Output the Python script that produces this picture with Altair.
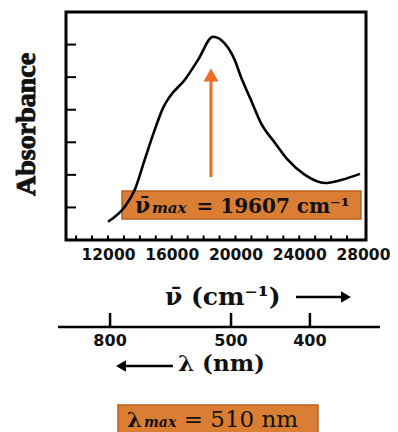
import altair as alt
import pandas as pd

# ---- spectrum ----
wavenumber = [12000, 13050, 13680, 14300, 14930, 15450, 15870, 16810, 17650, 18590,
              19320, 19950, 20340, 20970, 21600, 22480, 23290, 24360, 25620, 26620, 27810]
absorbance = [0.56, 1.02, 1.54, 2.46, 3.38, 4.05, 4.40, 4.91, 5.53, 6.24,
              6.04, 5.53, 5.01, 4.30, 3.59, 2.98, 2.46, 2.00, 1.75, 1.84, 2.03]

x_tick_labels = [12000, 16000, 20000, 24000, 28000]
x_minor_ticks = [10000, 11000, 12000, 13000, 14000, 15000, 16000, 17000, 18000,
                 19000, 20000, 21000, 22000, 23000, 24000, 25000, 26000, 27000]
y_ticks = [1, 2, 3, 4, 5, 6]
x_domain = [9365, 28190]
y_domain = [0, 7]

# wavelength scale (nm) and where its ticks sit on the wavenumber axis
lam_labels = ["800", "500", "400"]
lam_pos = [12130, 19720, 24670]

nu_max_text = "= 19607 cm\u207b\u00b9"
lam_max_text = "= 510 nm"
y_title = "Absorbance"

xs = alt.Scale(domain=x_domain, nice=False, zero=False)
ys = alt.Scale(domain=y_domain, nice=False, zero=False)

ORANGE_BOX = "#da7e34"
ORANGE_EDGE = "#b9621f"
ORANGE_ARROW = "#ee6a25"
INK = "#111111"

XAXIS = alt.Axis(
    values=x_tick_labels, format="d", title=None, domain=False, ticks=True, tickSize=0,
    labelFontSize=15.5, labelFont="DejaVu Sans", labelFontWeight="bold", labelColor=INK,
    labelPadding=7, labelOverlap=False, labelFlush=False, grid=False)
YAXIS = alt.Axis(title=None, labels=False, ticks=False, domain=False, grid=False)


def X(f="x"):
    return alt.X(f"{f}:Q", scale=xs, axis=XAXIS, title=None)


def Y(f="y"):
    return alt.Y(f"{f}:Q", scale=ys, axis=YAXIS, title=None)


spec = pd.DataFrame({"x": wavenumber, "y": absorbance})

nu_box = alt.Chart(pd.DataFrame({"x": [12878], "x2": [27873], "y": [0.645], "y2": [1.504]})).mark_rect(
    fill=ORANGE_BOX, stroke=ORANGE_EDGE, strokeWidth=1.5
).encode(x=X(), x2="x2:Q", y=Y(), y2="y2:Q")

lam_box = alt.Chart(pd.DataFrame({"x": [12627], "x2": [25175], "y": [-5.066], "y2": [-6.14]})).mark_rect(
    fill=ORANGE_BOX, stroke=ORANGE_EDGE, strokeWidth=1.5
).encode(x=X(), x2="x2:Q", y=Y(), y2="y2:Q")

curve = alt.Chart(spec).mark_line(color="black", strokeWidth=2.6, interpolate="monotone").encode(
    x=X(), y=Y())

title_mark = alt.Chart(pd.DataFrame({"x": [6918], "y": [3.55], "t": [y_title]})).mark_text(
    font="Liberation Serif", fontSize=28, fontWeight="bold", angle=270, align="center",
    baseline="middle", color=INK, stroke=INK, strokeWidth=0.9
).encode(x=X(), y=Y(), text="t:N")

xminor = alt.Chart(pd.DataFrame({"x": x_minor_ticks, "y": 0.0, "y2": 0.14})).mark_rule(
    color="black", strokeWidth=2
).encode(x=X(), y=Y(), y2="y2:Q")

yminor = alt.Chart(pd.DataFrame({"x": x_domain[0], "x2": 9992, "y": y_ticks})).mark_rule(
    color="black", strokeWidth=2
).encode(x=X(), x2="x2:Q", y=Y())

arrow_shaft = alt.Chart(pd.DataFrame({"x": [18462], "y": [1.934], "y2": [4.974]})).mark_rule(
    color=ORANGE_ARROW, strokeWidth=3
).encode(x=X(), y=Y(), y2="y2:Q")
arrow_head = alt.Chart(pd.DataFrame({"x": [18462], "y": [5.066]})).mark_point(
    shape="triangle-up", size=225, filled=True, color=ORANGE_ARROW, opacity=1
).encode(x=X(), y=Y())

nu_sym = alt.Chart(pd.DataFrame({"x": [13694], "y": [0.829], "t": ["\u03bd\u0304"]})).mark_text(
    font="DejaVu Serif", fontSize=22, fontWeight="bold", align="left", baseline="alphabetic", color=INK
).encode(x=X(), y=Y(), text="t:N")
nu_sub = alt.Chart(pd.DataFrame({"x": [14761], "y": [0.829], "t": ["max"]})).mark_text(
    font="DejaVu Serif", fontSize=15, fontWeight="bold", fontStyle="italic", align="left",
    baseline="alphabetic", color=INK
).encode(x=X(), y=Y(), text="t:N")
nu_val = alt.Chart(pd.DataFrame({"x": [22352], "y": [0.829], "t": [nu_max_text]})).mark_text(
    font="DejaVu Serif", fontSize=20, fontWeight="bold", align="center", baseline="alphabetic", color=INK
).encode(x=X(), y=Y(), text="t:N")

nu_label = alt.Chart(pd.DataFrame({"x": [15576], "y": [-1.996], "t": ["\u03bd\u0304 (cm\u207b\u00b9)"]})).mark_text(
    font="DejaVu Serif", fontSize=25, fontWeight="bold", align="left", baseline="alphabetic", color=INK
).encode(x=X(), y=Y(), text="t:N")
nu_arrow = alt.Chart(pd.DataFrame({"x": [23795], "x2": [26618], "y": [-1.75]})).mark_rule(
    color="black", strokeWidth=2.5
).encode(x=X(), x2="x2:Q", y=Y())
nu_arrow_head = alt.Chart(pd.DataFrame({"x": [26932], "y": [-1.75]})).mark_point(
    shape="triangle-right", size=130, filled=True, color="black", opacity=1
).encode(x=X(), y=Y())

lam_line = alt.Chart(pd.DataFrame({"x": [8863], "x2": [29065], "y": [-2.671]})).mark_rule(
    color="black", strokeWidth=2.5
).encode(x=X(), x2="x2:Q", y=Y())
lam_ticks = alt.Chart(pd.DataFrame({"x": lam_pos, "y": -2.671, "y2": -2.241})).mark_rule(
    color="black", strokeWidth=2.5
).encode(x=X(), y=Y(), y2="y2:Q")
lam_tick_text = alt.Chart(pd.DataFrame({"x": lam_pos, "y": -3.1, "t": lam_labels})).mark_text(
    font="DejaVu Sans", fontSize=16, fontWeight="bold", align="center", baseline="middle", color=INK
).encode(x=X(), y=Y(), text="t:N")
lam_arrow = alt.Chart(pd.DataFrame({"x": [13129], "x2": [16078], "y": [-3.87]})).mark_rule(
    color="black", strokeWidth=2.5
).encode(x=X(), x2="x2:Q", y=Y())
lam_arrow_head = alt.Chart(pd.DataFrame({"x": [12816], "y": [-3.87]})).mark_point(
    shape="triangle-left", size=130, filled=True, color="black", opacity=1
).encode(x=X(), y=Y())
lam_label = alt.Chart(pd.DataFrame({"x": [16392], "y": [-4.02], "t": ["\u03bb (nm)"]})).mark_text(
    font="DejaVu Serif", fontSize=23, fontWeight="bold", align="left", baseline="alphabetic", color=INK
).encode(x=X(), y=Y(), text="t:N")

lam_sym = alt.Chart(pd.DataFrame({"x": [13192], "y": [-5.741], "t": ["\u03bb"]})).mark_text(
    font="DejaVu Serif", fontSize=21, fontWeight="bold", align="left", baseline="alphabetic", color=INK
).encode(x=X(), y=Y(), text="t:N")
lam_sub = alt.Chart(pd.DataFrame({"x": [14259], "y": [-5.741], "t": ["max"]})).mark_text(
    font="DejaVu Serif", fontSize=14, fontWeight="bold", fontStyle="italic", align="left",
    baseline="alphabetic", color=INK
).encode(x=X(), y=Y(), text="t:N")
lam_val = alt.Chart(pd.DataFrame({"x": [20344], "y": [-5.741], "t": [lam_max_text]})).mark_text(
    font="DejaVu Serif", fontSize=23, align="center", baseline="alphabetic", color=INK
).encode(x=X(), y=Y(), text="t:N")

chart = alt.layer(
    nu_box, lam_box, curve, title_mark, xminor, yminor, arrow_shaft, arrow_head,
    nu_sym, nu_sub, nu_val, nu_label, nu_arrow, nu_arrow_head,
    lam_line, lam_ticks, lam_tick_text, lam_arrow, lam_arrow_head, lam_label,
    lam_sym, lam_sub, lam_val,
).properties(
    width=300, height=228,
    autosize=alt.AutoSizeParams(type="none"),
    padding={"left": 58, "top": 4, "right": 24, "bottom": 200},
    background="white",
).configure_view(stroke="black", strokeWidth=3)

chart.save("out.html", embed_options={"renderer": "svg", "actions": False})
